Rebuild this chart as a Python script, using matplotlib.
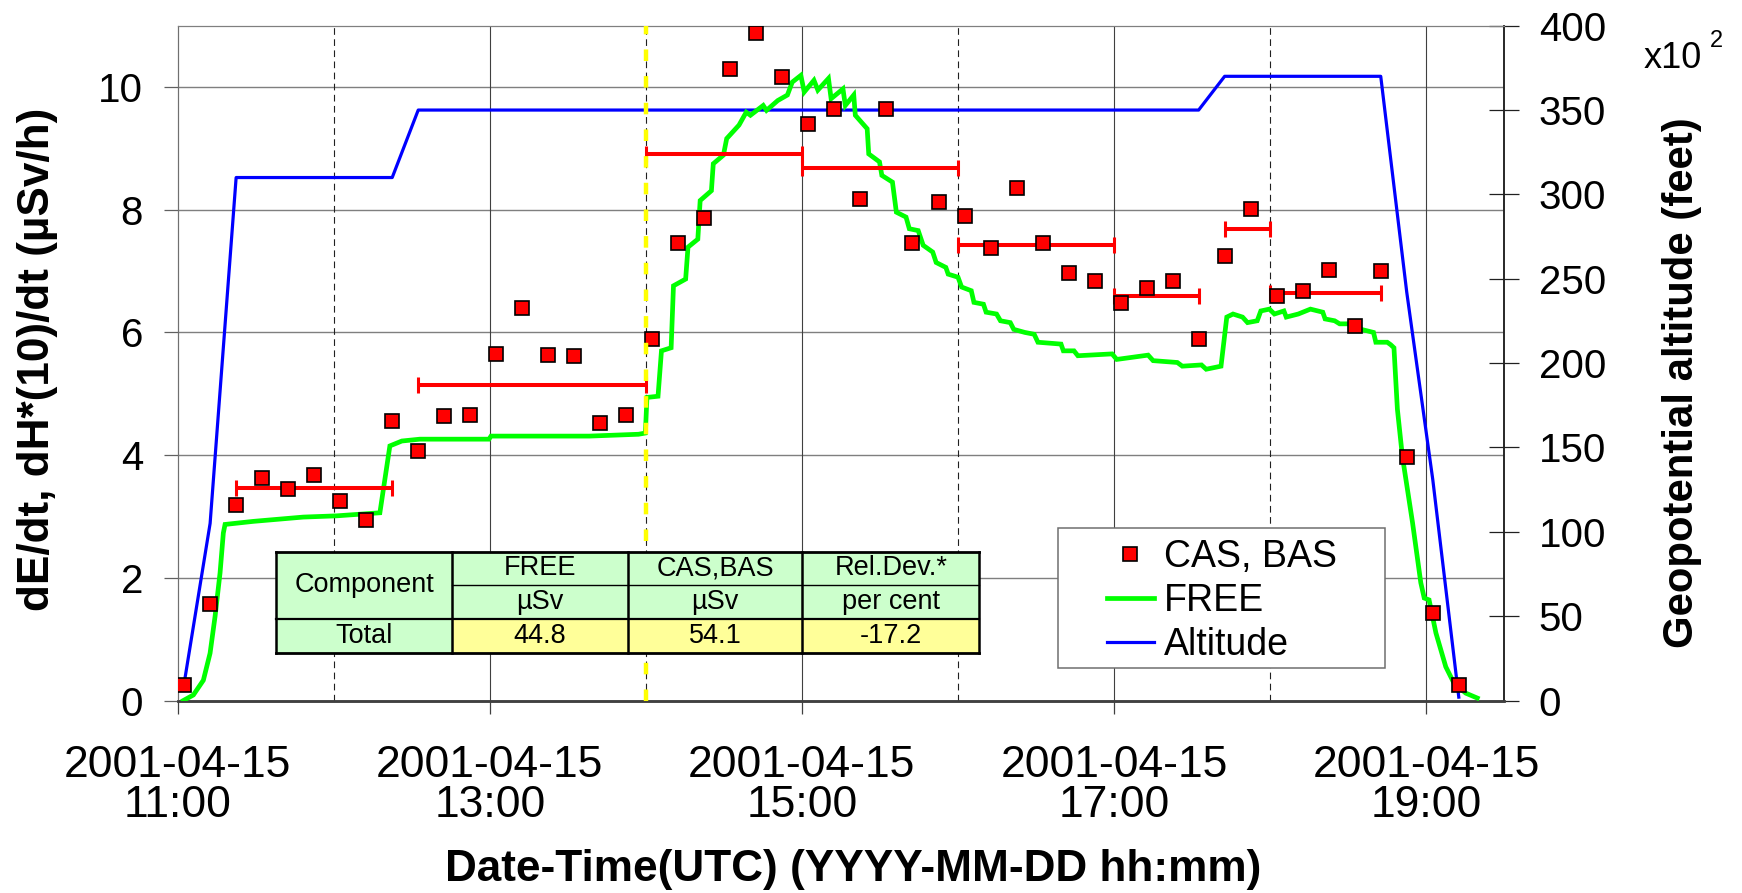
import matplotlib
matplotlib.use('Agg')
import matplotlib.pyplot as plt
from matplotlib.patches import Rectangle
from matplotlib.lines import Line2D

plt.rcParams['font.family'] = ['Liberation Sans', 'DejaVu Sans']

def hms(s):
    p = [int(v) for v in s.split(':')]
    return p[0] + p[1] / 60 + (p[2] if len(p) > 2 else 0) / 3600

# ---------------- data ----------------
cas_times = ["11:02:30", "11:12:30", "11:22:30", "11:32:30", "11:42:30", "11:52:30",
             "12:02:30", "12:12:30", "12:22:30", "12:32:30", "12:42:30", "12:52:30",
             "13:02:30", "13:12:30", "13:22:30", "13:32:30", "13:42:30", "13:52:30",
             "14:02:30", "14:12:30", "14:22:30", "14:32:30", "14:42:30", "14:52:30",
             "15:02:30", "15:12:30", "15:22:30", "15:32:30", "15:42:30", "15:52:30",
             "16:02:30", "16:12:30", "16:22:30", "16:32:30", "16:42:30", "16:52:30",
             "17:02:30", "17:12:30", "17:22:30", "17:32:30", "17:42:30", "17:52:30",
             "18:02:30", "18:12:30", "18:22:30", "18:32:30", "18:42:30", "18:52:30",
             "19:02:30", "19:12:30"]
cas_values = [0.25, 1.58, 3.19, 3.62, 3.44, 3.67, 3.26, 2.95, 4.56, 4.07,
              4.64, 4.66, 5.65, 6.40, 5.63, 5.61, 4.53, 4.66, 5.89, 7.46,
              7.86, 10.30, 10.88, 10.16, 9.39, 9.65, 8.17, 9.65, 7.46, 8.13,
              7.90, 7.37, 8.35, 7.45, 6.97, 6.84, 6.48, 6.73, 6.84, 5.90,
              7.25, 8.01, 6.60, 6.68, 7.01, 6.11, 7.00, 3.97, 1.43, 0.25]

free_hours = [11.037, 11.101, 11.165, 11.208, 11.240, 11.272, 11.293, 11.304, 11.485, 11.805,
              12.019, 12.296, 12.360, 12.437, 12.552, 12.995, 13.008, 13.638, 13.953, 13.997,
              14.007, 14.078, 14.100, 14.162, 14.177, 14.255, 14.270, 14.333, 14.348, 14.420,
              14.432, 14.497, 14.518, 14.597, 14.643, 14.670, 14.752, 14.773, 14.845, 14.907,
              14.938, 14.993, 15.015, 15.077, 15.102, 15.170, 15.187, 15.263, 15.278, 15.332,
              15.342, 15.418, 15.428, 15.497, 15.512, 15.580, 15.605, 15.667, 15.688, 15.745,
              15.777, 15.838, 15.860, 15.922, 15.937, 16.000, 16.023, 16.085, 16.102, 16.163,
              16.180, 16.247, 16.272, 16.335, 16.357, 16.428, 16.488, 16.512, 16.660, 16.675,
              16.743, 16.768, 16.987, 17.017, 17.218, 17.250, 17.405, 17.437, 17.560, 17.590,
              17.685, 17.722, 17.762, 17.823, 17.855, 17.917, 17.940, 17.995, 18.027, 18.088,
              18.103, 18.180, 18.258, 18.337, 18.352, 18.413, 18.445, 18.538, 18.583, 18.662,
              18.677, 18.750, 18.772, 18.793, 18.815, 18.847, 18.912, 18.965, 18.987, 19.018,
              19.062, 19.125, 19.178, 19.253, 19.327]
free_values = [0.00, 0.09, 0.33, 0.77, 1.37, 2.08, 2.73, 2.87, 2.92, 2.99,
               3.01, 3.06, 4.15, 4.23, 4.26, 4.26, 4.31, 4.31, 4.34, 4.36,
               4.94, 4.96, 5.70, 5.75, 6.76, 6.87, 7.39, 7.52, 8.15, 8.31,
               8.75, 8.89, 9.16, 9.38, 9.59, 9.54, 9.70, 9.62, 9.78, 9.87,
               10.08, 10.19, 9.92, 10.11, 9.95, 10.14, 9.81, 9.97, 9.70, 9.87,
               9.54, 9.32, 8.91, 8.78, 8.56, 8.45, 7.96, 7.88, 7.69, 7.66,
               7.42, 7.31, 7.14, 7.06, 6.95, 6.90, 6.74, 6.68, 6.49, 6.46,
               6.33, 6.30, 6.19, 6.16, 6.05, 6.00, 5.97, 5.84, 5.81, 5.70,
               5.70, 5.62, 5.65, 5.56, 5.63, 5.54, 5.51, 5.45, 5.47, 5.40,
               5.45, 6.25, 6.30, 6.25, 6.16, 6.19, 6.35, 6.38, 6.30, 6.35,
               6.25, 6.30, 6.38, 6.33, 6.22, 6.19, 6.14, 6.14, 6.05, 6.00,
               5.84, 5.84, 5.80, 5.75, 4.75, 3.98, 2.90, 1.92, 1.67, 1.64,
               1.10, 0.55, 0.28, 0.12, 0.04]

alt_times = ["11:02:30", "11:12:30", "11:22:30", "12:22:30", "12:32:30", "17:32:30",
             "17:42:30", "18:42:30", "18:52:30", "19:02:30", "19:12:30"]
alt_values = [10, 105, 310, 310, 350, 350, 370, 370, 242, 131, 2]   # x10^2 feet

bar_start = ["11:22:30", "12:32:30", "14:00", "15:00", "16:00", "17:00", "17:42:30", "18:00"]
bar_end = ["12:22:30", "14:00", "15:00", "16:00", "17:00", "17:32:30", "18:00", "18:42:30"]
bar_values = [3.47, 5.14, 8.91, 8.68, 7.42, 6.59, 7.68, 6.65]

marker_time = "14:00"

xtick_hours = [11, 13, 15, 17, 19]
xtick_labels = ["2001-04-15\n11:00", "2001-04-15\n13:00", "2001-04-15\n15:00",
                "2001-04-15\n17:00", "2001-04-15\n19:00"]
dashed_grid_hours = [12, 14, 16, 18]
left_ticks = [0, 2, 4, 6, 8, 10]
right_ticks = [0, 50, 100, 150, 200, 250, 300, 350, 400]

table_header1 = ["Component", "FREE", "CAS,BAS", "Rel.Dev.*"]
table_header2 = ["", "\u00b5Sv", "\u00b5Sv", "per cent"]
table_row = ["Total", "44.8", "54.1", "-17.2"]

# ---------------- figure ----------------
W, H = 1742, 893
fig = plt.figure(figsize=(W / 100, H / 100), dpi=100)

def fx(px):
    return px / W

def fy(py):
    return 1 - py / H

AX_L, AX_R, AX_T, AX_B = 177.6, 1504.3, 25.7, 700.5
ax = fig.add_axes([fx(AX_L), fy(AX_B), fx(AX_R) - fx(AX_L), fy(AX_T) - fy(AX_B)])
ax2 = ax.twinx()
ax.set_zorder(ax2.get_zorder() + 1)
ax.patch.set_visible(False)

ax.set_xlim(11, 19.5)
ax.set_ylim(0, 11)
ax2.set_ylim(0, 400)

# grid lines (drawn in the lower axes so the curves sit on top)
for y in left_ticks[1:]:
    ax2.plot([0, 1], [y, y], transform=ax.get_yaxis_transform(), color='#7f7f7f',
             lw=1.0, zorder=0)
for h in xtick_hours[1:]:
    ax2.axvline(h, color='#404040', lw=0.8, zorder=0)
for h in dashed_grid_hours:
    ax2.axvline(h, color='#202020', lw=0.8, dashes=(6, 4), zorder=0)

# altitude
ax2.plot([hms(t) for t in alt_times], alt_values, color='#0000FF', lw=2.3, zorder=2)

# FREE
ax.plot(free_hours, free_values, color='#00FF00', lw=3.4, zorder=3, solid_joinstyle='miter')

# averages
bs = [hms(t) for t in bar_start]
be = [hms(t) for t in bar_end]
mid = [(a + b) / 2 for a, b in zip(bs, be)]
half = [(b - a) / 2 for a, b in zip(bs, be)]
ax.errorbar(mid, bar_values, xerr=half, fmt='none', ecolor='#FF0000', elinewidth=2.9,
            capsize=5.5, capthick=2.2, zorder=4)

# CAS, BAS
ax.plot([hms(t) for t in cas_times], cas_values, ls='none', marker='s', ms=9.5,
        mfc='#FF0000', mec='#000000', mew=1.2, zorder=5)

# yellow marker line
ax.axvline(hms(marker_time), color='#FFFF00', lw=3.2, dashes=(2.6, 3.4), zorder=6)

# axes styling
ax.set_xticks(xtick_hours)
ax.set_xticklabels(xtick_labels, fontsize=32, linespacing=0.98)
ax.set_yticks(left_ticks)
ax.set_yticklabels([str(v) for v in left_ticks], fontsize=29)
ax2.set_yticks(right_ticks)
ax2.set_yticklabels([str(v) for v in right_ticks], fontsize=29)
ax.tick_params(axis='x', direction='out', length=9, width=0.9, color='#404040', pad=23)
ax.tick_params(axis='y', direction='out', length=10, width=0.9, color='#606060', pad=15)
ax2.tick_params(axis='y', direction='inout', length=21.6, width=0.9, color='#202020', pad=14)
ax2.tick_params(axis='x', length=0)

for a in (ax, ax2):
    a.spines['left'].set_color('#707070')
    a.spines['top'].set_color('#7f7f7f')
    a.spines['bottom'].set_color('#404040')
    a.spines['bottom'].set_linewidth(1.8)
    a.spines['right'].set_color('#202020')
    a.spines['right'].set_linewidth(1.1)

# axis titles
fig.text(fx(37.5), fy(359), "dE/dt, dH*(10)/dt (\u00b5Sv/h)", rotation=90, ha='center',
         va='center', fontsize=31.8, fontweight='bold')
fig.text(fx(1682), fy(383), "Geopotential altitude (feet)", rotation=90, ha='center',
         va='center', fontsize=30.2, fontweight='bold')
fig.text(fx(853), fy(870), "Date-Time(UTC) (YYYY-MM-DD hh:mm)", ha='center', va='center',
         fontsize=31.8, fontweight='bold')
fig.text(fx(1644), fy(68.3), "x10", ha='left', va='baseline', fontsize=26)
fig.text(fx(1710), fy(46.7), "2", ha='left', va='baseline', fontsize=17)

# table
col_x = [276.3, 451.8, 627.8, 802.4, 979.3]
row_y = [551.7, 585.0, 619.3, 653.3]
GREEN, YELLOW = '#CCFFCC', '#FFFF99'

def cell(x0, x1, y0, y1, color, text):
    fig.add_artist(Rectangle((fx(x0), fy(y1)), fx(x1) - fx(x0), fy(y0) - fy(y1),
                             transform=fig.transFigure, facecolor=color, edgecolor='none',
                             zorder=3))
    if text:
        fig.text(fx((x0 + x1) / 2), fy((y0 + y1) / 2), text, ha='center', va='center',
                 fontsize=19.5, zorder=4)

cell(col_x[0], col_x[1], row_y[0], row_y[2], GREEN, table_header1[0])
for i in range(1, 4):
    cell(col_x[i], col_x[i + 1], row_y[0], row_y[1], GREEN, table_header1[i])
    cell(col_x[i], col_x[i + 1], row_y[1], row_y[2], GREEN, table_header2[i])
cell(col_x[0], col_x[1], row_y[2], row_y[3], GREEN, table_row[0])
for i in range(1, 4):
    cell(col_x[i], col_x[i + 1], row_y[2], row_y[3], YELLOW, table_row[i])

def seg(x0, y0, x1, y1, lw):
    fig.add_artist(Line2D([fx(x0), fx(x1)], [fy(y0), fy(y1)], transform=fig.transFigure,
                          color='black', lw=lw, zorder=5, solid_capstyle='projecting'))

seg(col_x[0], row_y[0], col_x[-1], row_y[0], 2.0)
seg(col_x[0], row_y[3], col_x[-1], row_y[3], 2.0)
seg(col_x[0], row_y[2], col_x[-1], row_y[2], 1.6)
seg(col_x[1], row_y[1], col_x[-1], row_y[1], 1.0)
for xx in col_x:
    seg(xx, row_y[0], xx, row_y[3], 1.8)

# legend
LG = (1058.3, 528.3, 1385.0, 668.3)
fig.add_artist(Rectangle((fx(LG[0]), fy(LG[3])), fx(LG[2]) - fx(LG[0]), fy(LG[1]) - fy(LG[3]),
                         transform=fig.transFigure, facecolor='white', edgecolor='#6f6f6f',
                         lw=1.1, zorder=3))
handles = [Line2D([], [], ls='none', marker='s', ms=9.5, mfc='#FF0000', mec='black', mew=1.2),
           Line2D([], [], color='#00FF00', lw=3.4),
           Line2D([], [], color='#0000FF', lw=2.3)]
labels = ["CAS, BAS", "FREE", "Altitude"]
leg = fig.legend(handles, labels, loc='center left', bbox_to_anchor=(fx(1107), fy(601)),
                 frameon=False, fontsize=27, handlelength=1.25, handletextpad=0.26,
                 labelspacing=0.22, borderpad=0, borderaxespad=0)
leg.set_zorder(6)

fig.savefig('out.png', dpi=100)
